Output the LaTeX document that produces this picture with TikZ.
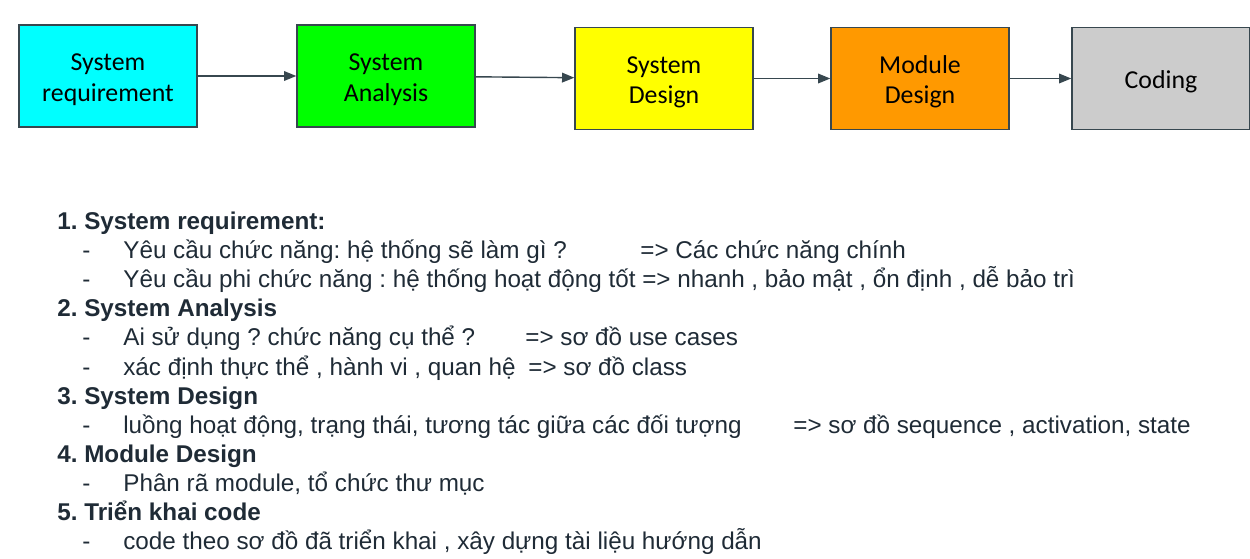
\documentclass[tikz,border=0pt]{standalone}
\usepackage{fontspec}
\setmainfont{Liberation Sans}
\newfontfamily\boxfont{Carlito}
\usetikzlibrary{arrows.meta}
\frenchspacing
\definecolor{ink}{HTML}{1F2B36}
\definecolor{edge}{HTML}{37474F}
\definecolor{reqcol}{HTML}{00FFFF}
\definecolor{anacol}{HTML}{00FF00}
\definecolor{descol}{HTML}{FFFF00}
\definecolor{modcol}{HTML}{FF9900}
\definecolor{codcol}{HTML}{CCCCCC}
\newcommand{\stagestrut}{\rule{0pt}{14pt}}
\begin{document}
\begin{tikzpicture}[x=0.02cm,y=-0.02cm,
    stage/.style={draw=edge,line width=0.8pt,minimum width=3.56cm,minimum height=2.04cm,
      align=center,text=black,font=\boxfont\fontsize{14.7}{17.5}\selectfont},
    item/.style={anchor=base west,inner sep=0pt,text=ink,font=\fontsize{13.8}{16}\selectfont},
    head/.style={item,font=\bfseries\fontsize{13.8}{16}\selectfont},
    flow/.style={draw=edge,line width=0.8pt,-{Triangle[length=7pt,width=5.5pt]}}]
  \useasboundingbox (0,0) rectangle (1250,558);
  \draw
    (108,76) node[stage,fill=reqcol] (req){\stagestrut System\\requirement}
    (386,76) node[stage,fill=anacol] (ana){\stagestrut System\\Analysis}
    (664,78.5) node[stage,fill=descol] (des){\stagestrut System\\Design}
    (920,78.5) node[stage,fill=modcol] (mod){\stagestrut Module\\Design}
    (1161,78.5) node[stage,fill=codcol] (cod){\stagestrut Coding};
  \begin{scope}[flow]
    \draw (req) to (ana);
    \draw (ana) to (des);
    \draw (des) to (mod);
    \draw (mod) to (cod);
  \end{scope}
  \node[head] (h1) at (57,229.5) {1. System requirement:};
  \node[item] (d11) at (82,258.6) {-};
  \node[item] (t11) at (123,258.6) {Yêu cầu chức năng: hệ thống sẽ làm gì ?};
  \node[item] (r11) at (640,258.6) {=> Các chức năng chính};
  \node[item] (d12) at (82,287.7) {-};
  \node[item] (t12) at (123,287.7) {Yêu cầu phi chức năng : hệ thống hoạt động tốt => nhanh , bảo mật , ổn định , dễ bảo trì};
  \node[head] (h2) at (57,316.8) {2. System Analysis};
  \node[item] (d21) at (82,345.9) {-};
  \node[item] (t21) at (123,345.9) {Ai sử dụng ? chức năng cụ thể ?};
  \node[item] (r21) at (525,345.9) {=> sơ đồ use cases};
  \node[item] (d22) at (82,375) {-};
  \node[item] (t22) at (123,375) {xác định thực thể , hành vi , quan hệ};
  \node[item] (r22) at (528,375) {=> sơ đồ class};
  \node[head] (h3) at (57,404.1) {3. System Design};
  \node[item] (d31) at (82,433.2) {-};
  \node[item] (t31) at (123,433.2) {luồng hoạt động, trạng thái, tương tác giữa các đối tượng};
  \node[item] (r31) at (793,433.2) {=> sơ đồ sequence , activation, state};
  \node[head] (h4) at (57,462.3) {4. Module Design};
  \node[item] (d41) at (82,491.4) {-};
  \node[item] (t41) at (123,491.4) {Phân rã module, tổ chức thư mục};
  \node[head] (h5) at (57,520.5) {5. Triển khai code};
  \node[item] (d51) at (82,549.6) {-};
  \node[item] (t51) at (123,549.6) {code theo sơ đồ đã triển khai , xây dựng tài liệu hướng dẫn};
\end{tikzpicture}
\end{document}
